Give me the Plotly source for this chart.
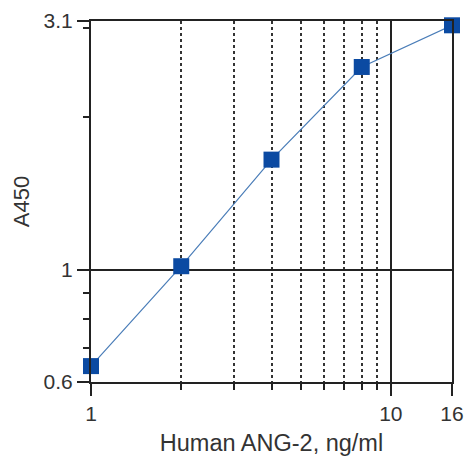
import math
import plotly.graph_objects as go

concentration = [1, 2, 4, 8, 16]
a450 = [0.645, 1.016, 1.65, 2.515, 3.04]

x_major_ticks = [1, 10, 16]
x_minor_ticks = [2, 3, 4, 5, 6, 7, 8, 9]
y_major_ticks = [0.6, 1, 3.1]
y_major_labels = ["0.6", "1", "3.1"]
y_minor_ticks = [0.7, 0.8, 0.9, 2, 3]

fig = go.Figure()
fig.add_trace(go.Scatter(
    x=concentration, y=a450, mode="lines+markers",
    line=dict(color="#4a7db8", width=1.2),
    marker=dict(symbol="square", size=16, color="#0b4aa2",
                line=dict(color="#0b4aa2", width=0)),
    showlegend=False, cliponaxis=False,
))

fam = "Liberation Sans"
tickfont = dict(family=fam, size=21, color="#333333")

fig.update_layout(
    width=466, height=458,
    margin=dict(l=91, r=14, t=21, b=76, autoexpand=False),
    paper_bgcolor="white", plot_bgcolor="white",
    font=dict(family=fam, size=21, color="#333333"),
    xaxis=dict(
        type="log", range=[0, math.log10(16)],
        tickvals=x_major_ticks, ticktext=[str(v) for v in x_major_ticks],
        tickfont=tickfont, ticklabeloverflow="allow",
        ticks="outside", ticklen=12, tickwidth=2, tickcolor="#222",
        showgrid=True, gridcolor="#222", gridwidth=1.5,
        showline=True, linecolor="#222", linewidth=2, mirror=True,
        zeroline=False, automargin=False,
        minor=dict(tickvals=x_minor_ticks, ticks="outside", ticklen=6,
                   tickwidth=2, tickcolor="#222", showgrid=True,
                   gridcolor="#333", gridwidth=1.5, griddash="dot"),
        title=dict(text="Human ANG-2, ng/ml", font=dict(family=fam, size=23.5, color="#333"), standoff=10),
    ),
    yaxis=dict(
        type="log", range=[math.log10(0.6), math.log10(3.1)],
        tickvals=y_major_ticks, ticktext=y_major_labels,
        tickfont=tickfont, ticklabeloverflow="allow",
        ticks="outside", ticklen=12, tickwidth=2, tickcolor="#222",
        showgrid=True, gridcolor="#222", gridwidth=1.5,
        showline=True, linecolor="#222", linewidth=2, mirror=True,
        zeroline=False, automargin=False,
        minor=dict(tickvals=y_minor_ticks, ticks="outside", ticklen=6,
                   tickwidth=2, tickcolor="#222", showgrid=False),
        title=dict(text="A450", font=dict(family=fam, size=22, color="#333"), standoff=8),
    ),
)

fig.write_html(
    "out.html",
    config={"displayModeBar": False},
    post_script="document.documentElement.style.margin='0';document.body.style.margin='0';document.body.style.overflow='hidden';",
)
